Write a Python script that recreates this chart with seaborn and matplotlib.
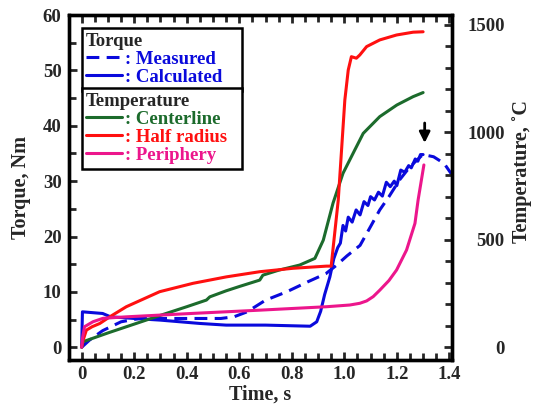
import numpy as np
import pandas as pd
import matplotlib
matplotlib.use("Agg")
import matplotlib.pyplot as plt
import seaborn as sns
from matplotlib.ticker import MultipleLocator

sns.set_style("ticks")
plt.rcParams["font.family"] = ["Liberation Serif", "DejaVu Serif"]
plt.rcParams["font.weight"] = "bold"

# ---------- data ----------
measured_t = [0, 0.03, 0.08, 0.15, 0.22, 0.3, 0.45, 0.53, 0.58, 0.63, 0.70, 0.78, 0.86,
              0.93, 0.97, 1.01, 1.06, 1.10, 1.135, 1.17, 1.21, 1.25, 1.29, 1.30, 1.34,
              1.38, 1.415]
measured_nm = [0, 1.3, 3.0, 4.6, 5.2, 5.2, 5.2, 5.2, 5.5, 6.4, 8.5, 10.0, 11.8,
               13.3, 14.8, 16.5, 18.4, 21.8, 24.8, 27.2, 30.2, 32.6, 34.4, 34.8, 34.4,
               33.2, 30.8]

calc_t = [0, 0.003, 0.08, 0.11, 0.2, 0.3, 0.45, 0.55, 0.7, 0.87, 0.895, 0.91, 0.925,
          0.945, 0.96, 0.975, 0.985, 0.995, 1.005, 1.015, 1.03, 1.045, 1.06, 1.075,
          1.09, 1.10, 1.115, 1.13, 1.145, 1.16, 1.175, 1.19, 1.20, 1.215, 1.23, 1.245,
          1.255, 1.27, 1.28, 1.29, 1.30]
calc_nm = [0, 6.4, 6.1, 5.5, 5.2, 4.9, 4.3, 4.0, 4.0, 3.8, 4.6, 6.5, 9.5,
           12.7, 16.0, 18.0, 18.8, 22.0, 21.0, 23.5, 22.6, 24.8, 23.9, 26.3,
           25.6, 27.2, 26.6, 28.0, 27.3, 29.8, 29.0, 30.0, 29.2, 32.0, 31.6, 32.8,
           32.4, 34.0, 33.6, 34.8, 34.8]

center_t = [0, 0.005, 0.1, 0.2, 0.3, 0.4, 0.475, 0.488, 0.55, 0.6, 0.678, 0.69, 0.75,
            0.83, 0.888, 0.92, 0.957, 0.995, 1.04, 1.072, 1.135, 1.2, 1.262, 1.30]
center_c = [0, 25, 66, 107, 148, 188, 219, 234, 262, 282, 312, 335, 358,
            382, 413, 498, 670, 809, 918, 995, 1073, 1127, 1166, 1185]

half_t = [0, 0.005, 0.018, 0.04, 0.069, 0.107, 0.17, 0.297, 0.424, 0.551, 0.678, 0.805,
          0.932, 0.95, 0.977, 1.002, 1.015, 1.027, 1.046, 1.059, 1.085, 1.135, 1.199,
          1.262, 1.30]
half_c = [0, 30, 79, 95, 110, 141, 188, 258, 297, 327, 351, 367,
          377, 377, 685, 1150, 1290, 1352, 1345, 1360, 1399, 1430, 1453,
          1466, 1468]

peri_t = [0, 0.003, 0.011, 0.043, 0.081, 0.17, 0.424, 0.678, 0.932, 1.021, 1.059, 1.085,
          1.11, 1.135, 1.17, 1.199, 1.237, 1.269, 1.281, 1.303]
peri_c = [0, 40, 95, 118, 134, 141, 157, 172, 188, 196, 204, 215,
          235, 265, 310, 359, 452, 576, 685, 848]

x_ticks = [0, 0.2, 0.4, 0.6, 0.8, 1.0, 1.2, 1.4]
x_labels = ["0", "0.2", "0.4", "0.6", "0.8", "1.0", "1.2", "1.4"]

BLUE = "#0a0adc"
GREEN = "#1c6b2c"
RED = "#ff1010"
PINK = "#ec168c"

# ---------- figure ----------
fig, ax = plt.subplots(figsize=(5.37, 4.09), dpi=100)
fig.subplots_adjust(left=0.1276, right=0.8417, top=0.9633, bottom=0.1198)
ax2 = ax.twinx()

sns.lineplot(x=measured_t, y=measured_nm, ax=ax, color=BLUE, lw=2.2,
             linestyle=(0, (4.2, 2.4)), legend=False)
sns.lineplot(x=calc_t, y=calc_nm, ax=ax, color=BLUE, lw=2.2, legend=False)
sns.lineplot(x=center_t, y=center_c, ax=ax2, color=GREEN, lw=2.2, legend=False)
sns.lineplot(x=half_t, y=half_c, ax=ax2, color=RED, lw=2.2, legend=False)
sns.lineplot(x=peri_t, y=peri_c, ax=ax2, color=PINK, lw=2.2, legend=False)

ax.set_xlim(-0.05, 1.41)
ax.set_ylim(-2.3, 60)
ax2.set_ylim(-60, 1546)

ax.annotate("", xy=(1.306, 36.4), xytext=(1.306, 41.0),
            arrowprops=dict(arrowstyle="-|>", color="black", lw=2, mutation_scale=16))

# ticks
ax.set_xticks(x_ticks)
ax.set_xticklabels(x_labels)
ax.xaxis.set_minor_locator(MultipleLocator(0.05))
ax.yaxis.set_major_locator(MultipleLocator(10))
ax.yaxis.set_minor_locator(MultipleLocator(5))
ax2.yaxis.set_major_locator(MultipleLocator(500))
ax2.yaxis.set_minor_locator(MultipleLocator(100))

ax.tick_params(which="both", direction="in", top=True, width=2, labelsize=13.5)
ax.tick_params(which="major", length=6)
ax.tick_params(which="minor", length=5)
ax.tick_params(axis="x", pad=4)
ax.tick_params(axis="y", pad=5)
ax2.tick_params(which="both", direction="in", width=2, labelsize=13.5, pad=38)
ax2.tick_params(which="major", length=6)
ax2.tick_params(which="minor", length=5)
for lab in ax2.get_yticklabels():
    lab.set_ha("right")

for a in (ax, ax2):
    for s in a.spines.values():
        s.set_linewidth(2.4)
        s.set_color("black")

ax.set_xlabel("Time, s", fontsize=14.5, fontweight="bold", va="center")
ax.set_ylabel("Torque, Nm", fontsize=14.5, fontweight="bold", va="center")
ax2.set_ylabel("Temperature, \u02daC", fontsize=14.5, fontweight="bold", va="center")
ax.xaxis.set_label_coords(0.5, -0.1)
ax.yaxis.set_label_coords(-0.125, 0.5)
ax2.yaxis.set_label_coords(1.1825, 0.545)

# ---------- legends ----------
lines = ax.get_lines()
lines2 = ax2.get_lines()
common = dict(mode="expand", borderaxespad=0, frameon=True, fancybox=False,
              edgecolor="black", framealpha=1, handlelength=1.9, handletextpad=0.15,
              labelspacing=0.05, borderpad=0.25, alignment="left",
              prop=dict(weight="bold", size=13.5),
              title_fontproperties=dict(weight="bold", size=13.5))
leg1 = ax2.legend([lines[0], lines[1]], [": Measured", ": Calculated"],
                  title="Torque", loc="upper left",
                  bbox_to_anchor=(0.034, 0.788, 0.418, 0.174), **common)
for t in leg1.get_texts():
    t.set_color(BLUE)
leg1.get_frame().set_linewidth(1.8)
ax2.add_artist(leg1)

leg2 = ax2.legend([lines2[0], lines2[1], lines2[2]],
                  [": Centerline", ": Half radius", ": Periphery"],
                  title="Temperature", loc="upper left",
                  bbox_to_anchor=(0.034, 0.551, 0.418, 0.237), **common)
for t, c in zip(leg2.get_texts(), [GREEN, RED, PINK]):
    t.set_color(c)
leg2.get_frame().set_linewidth(1.8)

plt.savefig("out.png", dpi=100)
plt.close()
